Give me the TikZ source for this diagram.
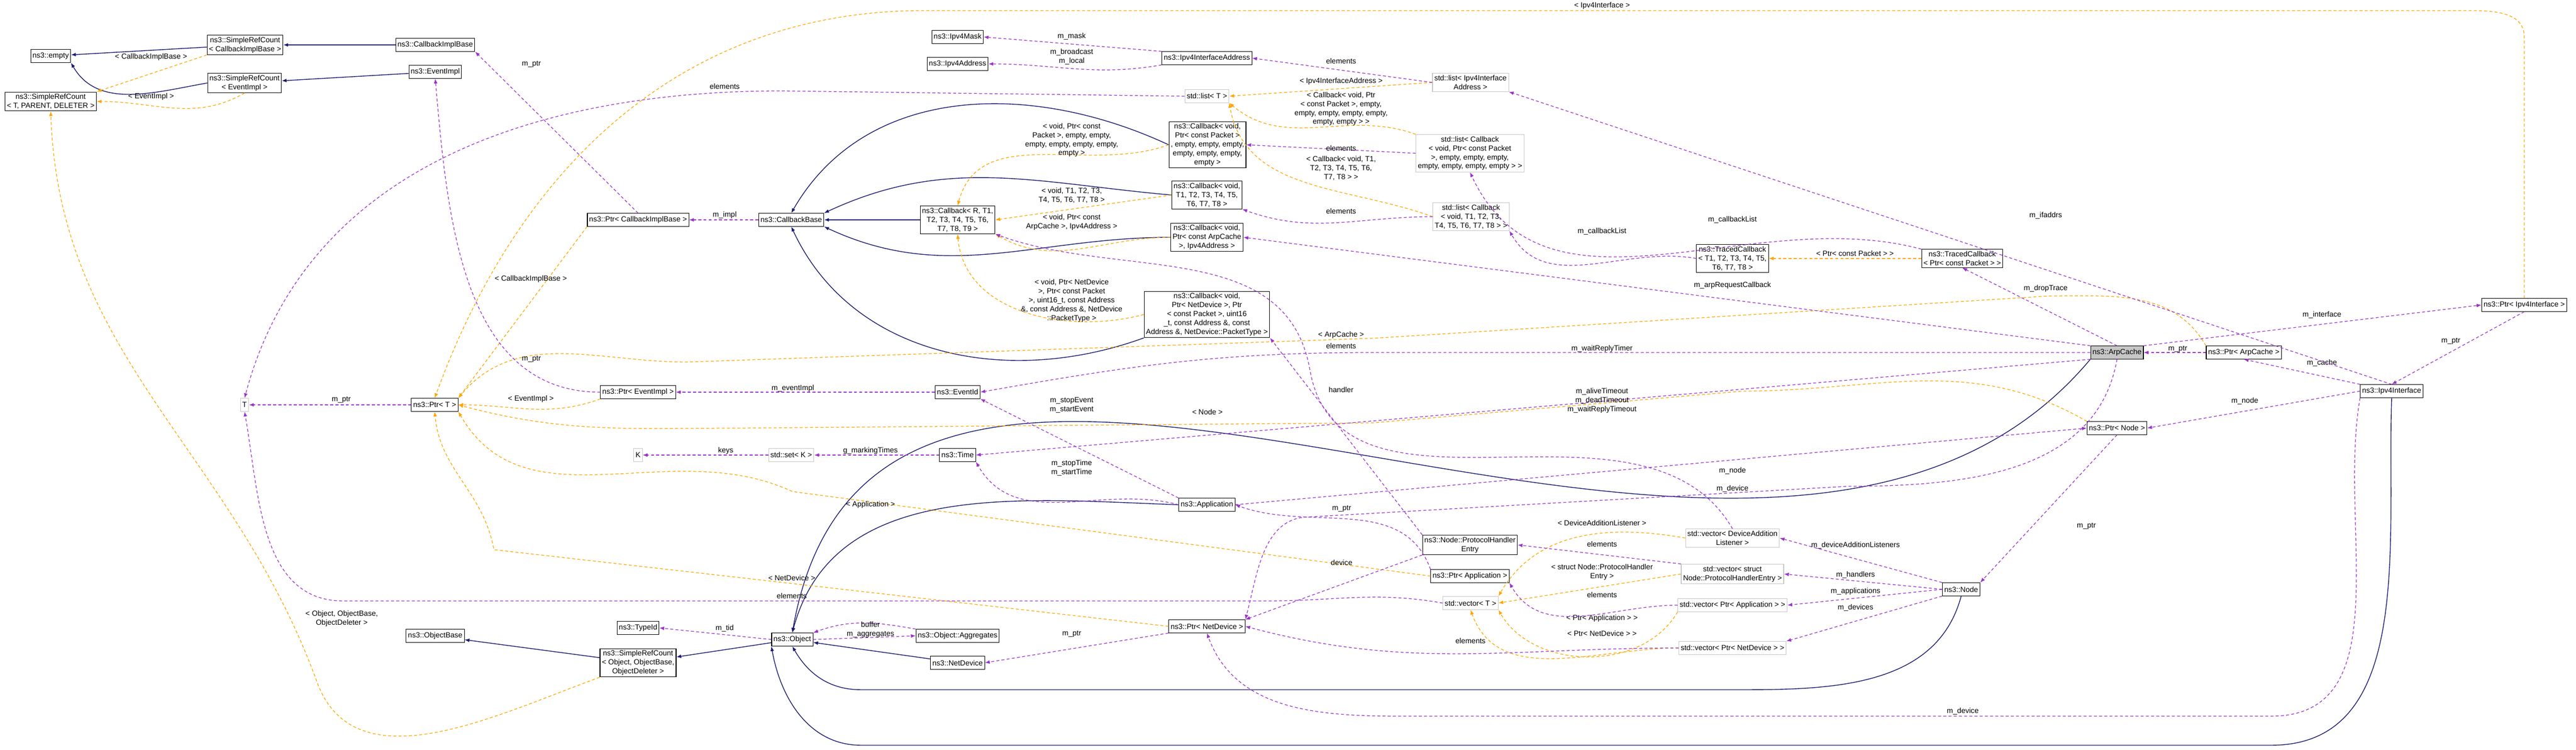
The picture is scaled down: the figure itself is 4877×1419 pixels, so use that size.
\documentclass[tikz,border=0pt]{standalone}
\usepackage{fontspec}
\setmainfont{Liberation Sans}
\usetikzlibrary{arrows.meta,positioning}
\definecolor{inhcol}{HTML}{191970}
\definecolor{usecol}{HTML}{9A32CD}
\definecolor{tplcol}{HTML}{FFA500}
\tikzset{
  cls/.style={draw=black, fill=white, line width=0.15pt, inner sep=0.5pt, align=center, font=\fontsize{2}{2.4}\selectfont, minimum height=3.5pt},
  ext/.style={cls, draw=gray!45},
  cur/.style={cls, fill=gray!45},
  lbl/.style={font=\fontsize{2}{2.4}\selectfont, align=center, inner sep=0.25pt, text=black},
  inh/.style={draw=inhcol, line width=0.2pt, -{Latex[length=1.3pt,width=1pt]}},
  use/.style={draw=usecol, line width=0.18pt, dash pattern=on 0.8pt off 0.6pt, -{Latex[length=1.3pt,width=1pt]}},
  tpl/.style={draw=tplcol, line width=0.18pt, dash pattern=on 0.8pt off 0.6pt, -{Latex[length=1.3pt,width=1pt]}}
}
\begin{document}
\begin{tikzpicture}[x=0.005cm, y=-0.005cm]
  \useasboundingbox (0,0) rectangle (4877,1419);
  % Nodes
  \node [cls] (empty) at (96,106) {ns3::empty};
  \node [cls] (srcCIB) at (464,85) {ns3::SimpleRefCount\\< CallbackImplBase >};
  \node [cls] (srcEI) at (463,157) {ns3::SimpleRefCount\\< EventImpl >};
  \node [cls] (srcTPD) at (96,192) {ns3::SimpleRefCount\\< T, PARENT, DELETER >};
  \node [cls] (cib) at (824,85) {ns3::CallbackImplBase};
  \node [cls] (evimpl) at (824,136) {ns3::EventImpl};
  \node [cls] (pCIB) at (1208,416) {ns3::Ptr< CallbackImplBase >};
  \node [cls] (cbBase) at (1498,416) {ns3::CallbackBase};
  \node [cls] (cbR) at (1813,416) {ns3::Callback< R, T1,\\T2, T3, T4, T5, T6,\\T7, T8, T9 >};
  \node [cls] (mask) at (1813,70) {ns3::Ipv4Mask};
  \node [cls] (addr) at (1813,121) {ns3::Ipv4Address};
  \node [cls] (ifAddr) at (2285,110) {ns3::Ipv4InterfaceAddress};
  \node [ext] (listT) at (2285,182) {std::list< T >};
  \node [cls] (cbPkt) at (2286,274) {ns3::Callback< void,\\Ptr< const Packet >\\, empty, empty, empty,\\empty, empty, empty,\\empty >};
  \node [cls] (cbT8) at (2285,369) {ns3::Callback< void,\\T1, T2, T3, T4, T5,\\T6, T7, T8 >};
  \node [cls] (cbArp) at (2285,449) {ns3::Callback< void,\\Ptr< const ArpCache\\>, Ipv4Address >};
  \node [cls] (cbDev) at (2285,595) {ns3::Callback< void,\\Ptr< NetDevice >, Ptr\\< const Packet >, uint16\\\_t, const Address \&, const\\Address \&, NetDevice::PacketType >};
  \node [ext] (listIA) at (2784,156) {std::list< Ipv4Interface\\Address >};
  \node [ext] (listPkt) at (2783,290) {std::list< Callback\\< void, Ptr< const Packet\\>, empty, empty, empty,\\empty, empty, empty, empty > >};
  \node [ext] (listT8) at (2785,410) {std::list< Callback\\< void, T1, T2, T3,\\T4, T5, T6, T7, T8 > >};
  \node [cls] (tcT8) at (3280,489) {ns3::TracedCallback\\< T1, T2, T3, T4, T5,\\T6, T7, T8 >};
  \node [cls] (tcPkt) at (3715,489) {ns3::TracedCallback\\< Ptr< const Packet > >};
  \node [cur] (arp) at (4008,667) {ns3::ArpCache};
  \node [cls] (pArp) at (4248,667) {ns3::Ptr< ArpCache >};
  \node [cls] (pIf) at (4779,577) {ns3::Ptr< Ipv4Interface >};
  \node [cls] (iface) at (4528,740) {ns3::Ipv4Interface};
  \node [cls] (pNode) at (4008,810) {ns3::Ptr< Node >};
  \node [ext] (T) at (463,766) {T};
  \node [cls] (pT) at (823,766) {ns3::Ptr< T >};
  \node [cls] (pEI) at (1208,742) {ns3::Ptr< EventImpl >};
  \node [cls] (evId) at (1813,742) {ns3::EventId};
  \node [ext] (K) at (1208,861) {K};
  \node [ext] (setK) at (1498,861) {std::set< K >};
  \node [cls] (time) at (1813,861) {ns3::Time};
  \node [cls] (app) at (2285,955) {ns3::Application};
  \node [cls] (phe) at (2783,1031) {ns3::Node::ProtocolHandler\\Entry};
  \node [cls] (pApp) at (2783,1090) {ns3::Ptr< Application >};
  \node [ext] (vT) at (2784,1141) {std::vector< T >};
  \node [ext] (vDAL) at (3280,1018) {std::vector< DeviceAddition\\Listener >};
  \node [ext] (vPHE) at (3280,1086) {std::vector< struct\\Node::ProtocolHandlerEntry >};
  \node [ext] (vApp) at (3280,1145) {std::vector< Ptr< Application > >};
  \node [ext] (vND) at (3280,1226) {std::vector< Ptr< NetDevice > >};
  \node [cls] (pND) at (2285,1185) {ns3::Ptr< NetDevice >};
  \node [cls] (node) at (3713,1115) {ns3::Node};
  \node [cls] (typeId) at (1208,1188) {ns3::TypeId};
  \node [cls] (objBase) at (824,1203) {ns3::ObjectBase};
  \node [cls] (srcObj) at (1208,1254) {ns3::SimpleRefCount\\< Object, ObjectBase,\\ObjectDeleter >};
  \node [cls] (obj) at (1500,1210) {ns3::Object};
  \node [cls] (aggr) at (1813,1203) {ns3::Object::Aggregates};
  \node [cls] (netDev) at (1813,1254) {ns3::NetDevice};

  % Inheritance
  \draw [inh] (srcCIB) -- (empty);
  \draw [inh] (srcEI.west) to[out=190,in=-60] (empty.south east);
  \draw [inh] (cib) -- (srcCIB);
  \draw [inh] (evimpl) -- (srcEI);
  \draw [inh] (cbPkt.west) to[out=155,in=60] (cbBase.north);
  \draw [inh] (cbT8.west) to[out=175,in=25] (cbBase.north east);
  \draw [inh] (cbR) -- (cbBase);
  \draw [inh] (cbArp.west) to[out=180,in=-25] (cbBase.south east);
  \draw [inh] (cbDev.south west) to[out=200,in=-65] (cbBase.south);
  \draw [inh] (srcObj) -- (objBase);
  \draw [inh] (obj) -- (srcObj);
  \draw [inh] (netDev) -- (obj);
  \draw [inh] (app.west) to[out=178,in=75] (obj.north);
  \draw [inh] (arp.south west) to[out=-130,in=80] (obj.north);
  \draw [inh] (node.south) to[out=-105,in=0] (3300,1305) -- (1630,1305) to[out=180,in=-60] (obj.south);
  \draw [inh] (iface.south) to[out=-92,in=0] (4300,1410) -- (1630,1410) to[out=180,in=-80] (obj.south west);

  % Templates
  \draw [tpl] (srcCIB.south west) node[lbl, at={(286,108)}] {< CallbackImplBase >} -- (srcTPD.north east);
  \draw [tpl] (srcEI.south) node[lbl, at={(286,183)}] {< EventImpl >} to[out=-150,in=0] (srcTPD.east);
  \draw [tpl] (srcObj.south west) node[lbl, at={(647,1170)}] {< Object, ObjectBase,\\ObjectDeleter >} to[out=200,in=-70] (600,1290) to[out=110,in=-88] (srcTPD.south);
  \draw [tpl] (pCIB.south west) node[lbl, at={(1005,528)}] {< CallbackImplBase >} -- (pT.north east);
  \draw [tpl] (pEI.south west) node[lbl, at={(1005,755)}] {< EventImpl >} to[out=200,in=0] (pT.east);
  \draw [tpl] (pIf.north) node[lbl, at={(3033,11)}] {< Ipv4Interface >} -- (4779,70) to[out=90,in=0] (4650,20) -- (1750,20) to[out=180,in=70] (pT.north);
  \draw [tpl] (pArp.north west) node[lbl, at={(2539,634)}] {< ArpCache >} to[out=120,in=0] (3880,560) -- (2600,640) -- (1300,685) to[out=180,in=50] (pT.north east);
  \draw [tpl] (pNode.north west) node[lbl, at={(2286,780)}] {< Node >} to[out=150,in=0] (3300,740) -- (2600,800) -- (1400,810) to[out=180,in=-15] (pT.east);
  \draw [tpl] (pApp.west) node[lbl, at={(1648,955)}] {< Application >} -- (1500,930) to[out=155,in=-60] (pT.south east);
  \draw [tpl] (pND.west) node[lbl, at={(1499,1094)}] {< NetDevice >} -- (935,1040) to[out=100,in=-85] (pT.south);
  \draw [tpl] (listIA.west) node[lbl, at={(2539,154)}] {< Ipv4InterfaceAddress >} -- (listT.east);
  \draw [tpl] (listPkt.north west) node[lbl, at={(2539,206)}] {< Callback< void, Ptr\\< const Packet >, empty,\\empty, empty, empty, empty,\\empty, empty > >} to[out=160,in=-40] (listT.south east);
  \draw [tpl] (listT8.west) node[lbl, at={(2539,318)}] {< Callback< void, T1,\\T2, T3, T4, T5, T6,\\T7, T8 > >} to[out=160,in=-80] (listT.south east);
  \draw [tpl] (cbPkt.west) node[lbl, at={(2029,265)}] {< void, Ptr< const\\Packet >, empty, empty,\\empty, empty, empty, empty,\\empty >} to[out=200,in=75] (cbR.north);
  \draw [tpl] (cbT8.west) node[lbl, at={(2029,370)}] {< void, T1, T2, T3,\\T4, T5, T6, T7, T8 >} -- (cbR.east);
  \draw [tpl] (cbArp.west) node[lbl, at={(2029,420)}] {< void, Ptr< const\\ArpCache >, Ipv4Address >} to[out=180,in=-30] (cbR.south east);
  \draw [tpl] (cbDev.west) node[lbl, at={(2029,569)}] {< void, Ptr< NetDevice\\>, Ptr< const Packet\\>, uint16\_t, const Address\\\&, const Address \&, NetDevice\\::PacketType >} to[out=195,in=-85] (cbR.south);
  \draw [tpl] (tcPkt.west) node[lbl, at={(3512,480)}] {< Ptr< const Packet > >} -- (tcT8.east);
  \draw [tpl] (vDAL.west) node[lbl, at={(3033,989)}] {< DeviceAdditionListener >} to[out=170,in=60] (vT.north east);
  \draw [tpl] (vPHE.west) node[lbl, at={(3033,1082)}] {< struct Node::ProtocolHandler\\Entry >} -- (vT.east);
  \draw [tpl] (vApp.south west) node[lbl, at={(3033,1170)}] {< Ptr< Application > >} to[out=-120,in=-60] (vT.south east);
  \draw [tpl] (vND.west) node[lbl, at={(3033,1199)}] {< Ptr< NetDevice > >} to[out=180,in=-70] (vT.south);

  % Members
  \draw [use] (pCIB.north) node[lbl, at={(1006,121)}] {m\_ptr} -- (cib.south east);
  \draw [use] (cbBase) node[lbl, at={(1372,407)}] {m\_impl} -- (pCIB);
  \draw [use] (pEI.west) node[lbl, at={(1006,679)}] {m\_ptr} to[out=180,in=-85] (evimpl.south);
  \draw [use] (pT) node[lbl, at={(646,756)}] {m\_ptr} -- (T);
  \draw [use] (listT.west) node[lbl, at={(1372,164)}] {elements} -- (1480,172) to[out=180,in=75] (T.north);
  \draw [use] (vT.west) node[lbl, at={(1499,1127)}] {elements} to[out=170,in=0] (2400,1137) -- (650,1137) to[out=180,in=-80] (T.south);
  \draw [use] (setK) node[lbl, at={(1374,853)}] {keys} -- (K);
  \draw [use] (time) node[lbl, at={(1648,853)}] {g\_markingTimes} -- (setK);
  \draw [use] (evId) node[lbl, at={(1501,735)}] {m\_eventImpl} -- (pEI);
  \draw [use] (ifAddr.north west) node[lbl, at={(2029,69)}] {m\_mask} -- (mask.east);
  \draw [use] (ifAddr.south west) node[lbl, at={(2029,107)}] {m\_broadcast\\m\_local} to[out=190,in=0] (addr.east);
  \draw [use] (listIA.west) node[lbl, at={(2539,116)}] {elements} -- (ifAddr.east);
  \draw [use] (listPkt.west) node[lbl, at={(2539,281)}] {elements} -- (cbPkt.east);
  \draw [use] (listT8.west) node[lbl, at={(2539,400)}] {elements} to[out=180,in=-20] (cbT8.south east);
  \draw [use] (tcT8.west) node[lbl, at={(3033,438)}] {m\_callbackList} to[out=170,in=-60] (listT8.south east);
  \draw [use] (tcPkt.north west) node[lbl, at={(3280,416)}] {m\_callbackList} to[out=165,in=-65] (listPkt.south);
  \draw [use] (arp.north) node[lbl, at={(3873,546)}] {m\_dropTrace} -- (tcPkt.south);
  \draw [use] (arp.north west) node[lbl, at={(3280,540)}] {m\_arpRequestCallback} -- (cbArp.east);
  \draw [use] (arp.west) node[lbl, at={(3033,660)}] {m\_waitReplyTimer} -- (2600,667) to[out=180,in=10] (evId.east);
  \draw [use] (arp.south west) node[lbl, at={(3033,758)}] {m\_aliveTimeout\\m\_deadTimeout\\m\_waitReplyTimeout} -- (time.east);
  \draw [use] (arp.north east) node[lbl, at={(4396,596)}] {m\_interface} -- (pIf.west);
  \draw [use] (arp.south) node[lbl, at={(3280,925)}] {m\_device} to[out=-100,in=0] (3500,920) -- (2480,978) to[out=180,in=75] (pND.north east);
  \draw [use] (pArp) node[lbl, at={(4123,660)}] {m\_ptr} -- (arp);
  \draw [use] (pIf.south) node[lbl, at={(4640,645)}] {m\_ptr} -- (iface.north);
  \draw [use] (iface.north west) node[lbl, at={(4396,687)}] {m\_cache} -- (pArp.south);
  \draw [use] (iface.west) node[lbl, at={(4250,759)}] {m\_node} -- (pNode.east);
  \draw [use] (iface.north) node[lbl, at={(3873,408)}] {m\_ifaddrs} -- (listIA.south east);
  \draw [use] (iface.south west) node[lbl, at={(3716,1346)}] {m\_device} to[out=-100,in=0] (4300,1355) -- (2650,1355) to[out=180,in=-70] (pND.south);
  \draw [use] (pNode.south) node[lbl, at={(3950,995)}] {m\_ptr} -- (node.north east);
  \draw [use] (app.north west) node[lbl, at={(2029,767)}] {m\_stopEvent\\m\_startEvent} -- (evId.south east);
  \draw [use] (app.west) node[lbl, at={(2029,885)}] {m\_stopTime\\m\_startTime} to[out=165,in=-60] (time.south east);
  \draw [use] (app.east) node[lbl, at={(3280,891)}] {m\_node} -- (pNode.west);
  \draw [use] (pApp.north west) node[lbl, at={(2540,962)}] {m\_ptr} to[out=110,in=-20] (app.east);
  \draw [use] (node.north west) node[lbl, at={(3513,1032)}] {m\_deviceAdditionListeners} -- (vDAL.east);
  \draw [use] (node.west) node[lbl, at={(3513,1088)}] {m\_handlers} -- (vPHE.east);
  \draw [use] (node.west) node[lbl, at={(3513,1119)}] {m\_applications} -- (vApp.east);
  \draw [use] (node.south west) node[lbl, at={(3513,1150)}] {m\_devices} -- (vND.north east);
  \draw [use] (vPHE.north west) node[lbl, at={(3033,1030)}] {elements} -- (phe.east);
  \draw [use] (vApp.west) node[lbl, at={(3033,1126)}] {elements} to[out=180,in=-60] (pApp.south east);
  \draw [use] (vND.west) node[lbl, at={(2784,1213)}] {elements} to[out=180,in=-15] (pND.east);
  \draw [use] (vDAL.north) node[lbl, at={(2539,655)}] {elements} to[out=120,in=-80] (2480,700) to[out=100,in=-20] (cbR.south east);
  \draw [use] (phe.south west) node[lbl, at={(2540,1065)}] {device} -- (pND.north east);
  \draw [use] (phe.north west) node[lbl, at={(2539,738)}] {handler} -- (cbDev.south east);
  \draw [use] (pND.south west) node[lbl, at={(2029,1199)}] {m\_ptr} -- (netDev.east);
  \draw [use] (obj.east) node[lbl, at={(1648,1200)}] {m\_aggregates} -- (aggr.west);
  \draw [use] (aggr.north west) node[lbl, at={(1648,1182)}] {buffer} to[out=170,in=20] (obj.north east);
  \draw [use] (obj.west) node[lbl, at={(1372,1189)}] {m\_tid} -- (typeId.east);
\end{tikzpicture}
\end{document}
